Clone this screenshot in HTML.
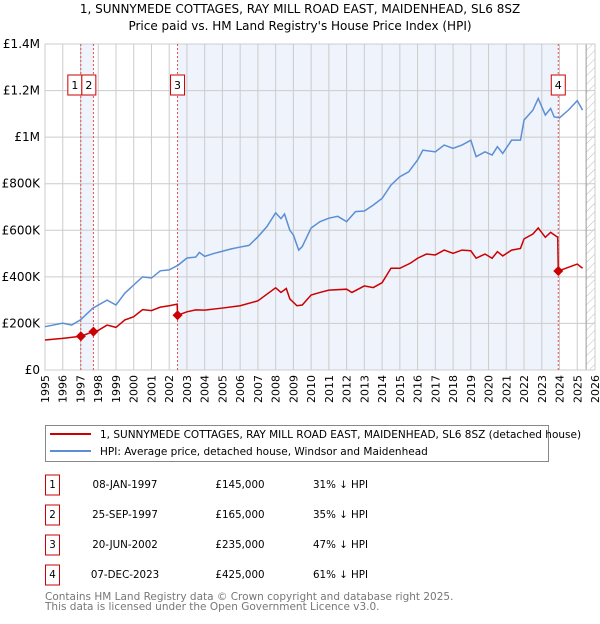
<!DOCTYPE html>
<html><head><meta charset="utf-8"><style>
body{margin:0;width:600px;height:620px;background:#fff;font-family:"DejaVu Sans","Liberation Sans",sans-serif;overflow:hidden}
svg text{font-family:"DejaVu Sans","Liberation Sans",sans-serif}
</style></head><body>
<svg id="chart" width="600" height="620" viewBox="0 0 600 620">
<g id="title">
<text x="300" y="13" text-anchor="middle" font-size="12">1, SUNNYMEDE COTTAGES, RAY MILL ROAD EAST, MAIDENHEAD, SL6 8SZ</text>
<text x="300" y="30" text-anchor="middle" font-size="12">Price paid vs. HM Land Registry's House Price Index (HPI)</text>
</g>
<g id="plot"></g>
<g>
<rect x="45.5" y="425.5" width="503" height="36" fill="#fff" stroke="#888"/>
<line x1="50" y1="434" x2="91" y2="434" stroke="#cc0000" stroke-width="2"/>
<text x="100" y="438" font-size="10.5">1, SUNNYMEDE COTTAGES, RAY MILL ROAD EAST, MAIDENHEAD, SL6 8SZ (detached house)</text>
<line x1="50" y1="451" x2="91" y2="451" stroke="#5b8fd4" stroke-width="2"/>
<text x="100" y="455" font-size="10.5">HPI: Average price, detached house, Windsor and Maidenhead</text>
</g>
<g id="table" font-size="10.3"></g>
<g fill="#777" font-size="10.5">
<text x="45" y="600">Contains HM Land Registry data © Crown copyright and database right 2025.</text>
<text x="45" y="610">This data is licensed under the Open Government Licence v3.0.</text>
</g>
</svg>
<script>
const hpiYears=[1995,1996,1996.5,1997,1997.7,1998.5,1999,1999.5,2000,2000.5,2001,2001.5,2002,2002.5,2003,2003.5,2003.7,2004,2004.5,2005,2005.5,2006,2006.5,2007,2007.5,2008,2008.3,2008.5,2008.8,2009,2009.3,2009.5,2010,2010.5,2011,2011.5,2012,2012.5,2013,2013.5,2014,2014.5,2015,2015.5,2016,2016.3,2017,2017.5,2018,2018.5,2019,2019.3,2019.8,2020.2,2020.5,2020.8,2021.3,2021.8,2022,2022.5,2022.8,2023.2,2023.5,2023.7,2024,2024.5,2025,2025.3];
const hpiValues=[186,201,193,215,266,300,279,330,365,400,395,426,430,450,481,485,505,488,500,510,520,528,535,572,615,675,650,670,600,580,515,530,610,637,652,660,637,680,683,708,737,794,830,851,902,944,937,966,952,966,987,916,937,923,959,930,987,987,1073,1116,1166,1095,1123,1087,1083,1116,1157,1116];
const priceYears=[1995,1996,1997.02,1997.73,1998,1998.5,1999,1999.5,2000,2000.5,2001,2001.5,2002,2002.45,2002.47,2003,2003.5,2004,2005,2006,2007,2008,2008.3,2008.6,2008.8,2009.2,2009.5,2010,2010.5,2011,2012,2012.3,2013,2013.5,2014,2014.5,2015,2015.6,2016,2016.5,2017,2017.5,2018,2018.5,2019,2019.3,2019.8,2020.2,2020.5,2020.8,2021.3,2021.8,2022,2022.5,2022.8,2023.2,2023.5,2023.9,2023.93,2024.5,2025,2025.3];
const priceValues=[129,136,145,165,170,193,183,215,229,259,255,270,276,283,235,250,258,257,266,276,297,353,333,350,305,276,279,322,333,343,347,333,361,354,375,437,437,459,480,498,494,515,501,515,512,480,498,480,508,490,515,522,563,584,610,570,591,570,425,441,455,437];
const saleIds=["1","2","3","4"];
const saleYears=[1997.02,1997.73,2002.47,2023.93];
const saleValues=[145,165,235,425];
const saleDates=["08-JAN-1997","25-SEP-1997","20-JUN-2002","07-DEC-2023"];
const salePrices=["£145,000","£165,000","£235,000","£425,000"];
const salePcts=["31% ↓ HPI","35% ↓ HPI","47% ↓ HPI","61% ↓ HPI"];
const yTicks=[0,200,400,600,800,1000,1200,1400];
const yTickLabels=["£0","£200K","£400K","£600K","£800K","£1M","£1.2M","£1.4M"];
const xTicks=[1995,1996,1997,1998,1999,2000,2001,2002,2003,2004,2005,2006,2007,2008,2009,2010,2011,2012,2013,2014,2015,2016,2017,2018,2019,2020,2021,2022,2023,2024,2025,2026];

const NS="http://www.w3.org/2000/svg";
const L=45,R=595,T=44,B=370;
const xS=y=>L+(y-1995)/(2026-1995)*(R-L);
const yS=v=>B-v/1400*(B-T);
const plot=document.getElementById('plot');
function mk(tag,attrs,parent){const e=document.createElementNS(NS,tag);for(const k in attrs)e.setAttribute(k,attrs[k]);(parent||plot).appendChild(e);return e;}

let bg=mk('rect',{x:L,y:T,width:R-L,height:B-T,fill:'#fff'});


let s1=mk('rect',{x:xS(saleYears[0]),y:T,width:xS(saleYears[1])-xS(saleYears[0]),height:B-T,fill:'#eef3fc'});


let s2=mk('rect',{x:xS(saleYears[2]),y:T,width:xS(saleYears[3])-xS(saleYears[2]),height:B-T,fill:'#eef3fc'});


const defs=mk('defs',{});
const pat=mk('pattern',{id:'hatch',width:6,height:6,patternUnits:'userSpaceOnUse',patternTransform:'rotate(45)'},defs);
mk('line',{x1:0,y1:0,x2:0,y2:6,stroke:'#bbb','stroke-width':1},pat);
let hx=xS(2025.5);
let hr=mk('rect',{x:hx,y:T,width:R-hx,height:B-T,fill:'url(#hatch)'});


xTicks.forEach(t=>{let g=mk('line',{x1:xS(t),y1:T,x2:xS(t),y2:B,stroke:'#ccc','stroke-width':1});


let tx=mk('text',{x:0,y:0,'font-size':11,transform:`translate(${xS(t)+4},${B+33}) rotate(-90)`});tx.textContent=t;

});
yTicks.forEach((t,i)=>{let g=mk('line',{x1:L,y1:yS(t),x2:R,y2:yS(t),stroke:'#ccc','stroke-width':1});


let tx=mk('text',{x:L-5,y:yS(t)+4,'font-size':12,'text-anchor':'end'});tx.textContent=yTickLabels[i];

});
let hl=mk('line',{x1:hx,y1:T,x2:hx,y2:B,stroke:'#999'});


let fr=mk('rect',{x:L,y:T,width:R-L,height:B-T,fill:'none',stroke:'#ccc'});


saleYears.forEach((y,i)=>{let v=mk('line',{x1:xS(y),y1:T,x2:xS(y),y2:B,stroke:'#e05050','stroke-dasharray':'2,2','stroke-width':1});

});
let hp=mk('polyline',{points:hpiYears.map((y,i)=>xS(y)+','+yS(hpiValues[i])).join(' '),fill:'none',stroke:'#5b8fd4','stroke-width':1.5});


let pp=mk('polyline',{points:priceYears.map((y,i)=>xS(y)+','+yS(priceValues[i])).join(' '),fill:'none',stroke:'#cc0000','stroke-width':1.5});


saleYears.forEach((y,i)=>{
 let cx=xS(y),cy=yS(saleValues[i]);
 let d=mk('path',{d:`M${cx},${cy-5}L${cx+5},${cy}L${cx},${cy+5}L${cx-5},${cy}Z`,fill:'#cc0000'});
 
 
 let b=mk('rect',{x:i==1?xS(saleYears[0])+1:cx-7-(i==0?6:0),y:75,width:14,height:20,fill:'#fff',stroke:'#cc0000'});
 
 
 let t=mk('text',{x:+b.getAttribute('x')+7,y:89,'font-size':11,'text-anchor':'middle'});t.textContent=saleIds[i];
 
 
});
const tb=document.getElementById('table');
saleIds.forEach((id,i)=>{
 const yy=485+i*30;
 let r=mk('rect',{x:45.5,y:yy-10,width:14,height:20,fill:'#fff',stroke:'#cc0000'},tb);
 
 
 const cells=[[52.5,id,'middle'],[125,saleDates[i],'middle'],[240,salePrices[i],'middle'],[313,salePcts[i],'start']];
 cells.forEach(c=>{let t=mk('text',{x:c[0],y:yy+3,'text-anchor':c[2]},tb);t.textContent=c[1];
 
 });
});
</script>
</body></html>
